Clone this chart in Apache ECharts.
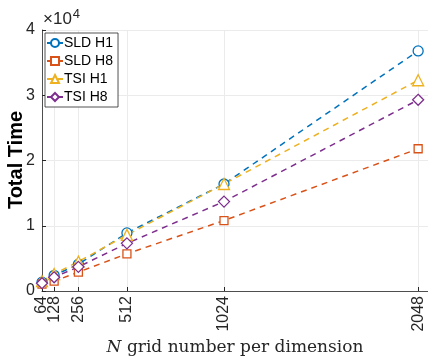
<!DOCTYPE html>
<html><head><meta charset="utf-8">
<script src="https://cdn.jsdelivr.net/npm/echarts@6/dist/echarts.min.js"></script>
<style>html,body{margin:0;padding:0;background:#fff}#c{width:428px;height:359px}</style>
</head><body><div id="c"></div>
<script>
const categories = [64, 128, 256, 512, 1024, 2048];
const sldH1 = [1350, 2400, 4100, 8900, 16400, 36800];
const sldH8 = [1050, 1500, 2900, 5700, 10800, 21800];
const tsiH1 = [1500, 2600, 4500, 8600, 16400, 32300];
const tsiH8 = [1200, 2100, 3700, 7300, 13700, 29300];
const yTicks = [0, 10000, 20000, 30000, 40000];
const seriesNames = ['SLD H1', 'SLD H8', 'TSI H1', 'TSI H8'];

const colors = ['#0072BD', '#D95319', '#EDB120', '#7E2F8E'];
const symbols = ['circle', 'rect', 'triangle', 'diamond'];
const sizes = [10, 8, 11, 11];
const allData = [sldH1, sldH8, tsiH1, tsiH8];

// labels split between two overlaid axes so the overlapping 64/128 both show
const labelsA = categories.filter((v, i) => i !== 1);
const labelsB = [categories[1]];

const chart = echarts.init(document.getElementById('c'), null, {renderer: 'canvas'});
const series = allData.map((d, i) => ({
  name: seriesNames[i],
  type: 'line',
  xAxisIndex: 0,
  data: categories.map((x, j) => [x, d[j]]),
  symbol: symbols[i],
  symbolSize: sizes[i],
  showAllSymbol: true,
  itemStyle: {color: '#fff', borderColor: colors[i], borderWidth: 1.3},
  lineStyle: {color: colors[i], width: 1.5, type: [6, 5]},
  z: 3
}));

const labelStyle = {rotate: 90, formatter: v => String(v), fontFamily: 'Liberation Sans', fontSize: 16, color: '#262626', margin: 5};

chart.setOption({
  animation: false,
  backgroundColor: '#fff',
  grid: {left: 42, right: 0, top: 30, bottom: 68, outerBoundsMode: 'none', containLabel: false},
  legend: {
    orient: 'vertical', left: 45, top: 33,
    data: seriesNames,
    itemWidth: 16, itemHeight: 10, itemGap: 4,
    padding: [3, 5, 3, 1],
    backgroundColor: '#fff', borderColor: '#262626', borderWidth: 0.8,
    textStyle: {fontFamily: 'Liberation Sans', fontSize: 14, color: '#000', padding: [0,0,0,-4]}
  },
  xAxis: [{
    type: 'value', min: 64, max: 2100, position: 'bottom',
    axisLine: {show: true, onZero: false, lineStyle: {color: '#262626', width: 0.8}},
    axisTick: {show: true, inside: true, length: 4, customValues: categories, lineStyle: {color: '#262626'}},
    axisLabel: Object.assign({customValues: labelsA}, labelStyle),
    splitLine: {show: true, lineStyle: {color: '#ebebeb', width: 1}},
    name: '{i|N} grid number per dimension',
    nameLocation: 'middle', nameGap: 45,
    nameTextStyle: {fontFamily: 'DejaVu Serif', fontSize: 17, color: '#262626',
      rich: {i: {fontFamily: 'DejaVu Serif', fontStyle: 'italic', fontSize: 17, color: '#262626'}}}
  }, {
    type: 'value', min: 64, max: 2100, position: 'bottom', offset: 0,
    axisLine: {show: false, onZero: false},
    axisTick: {show: false},
    axisLabel: Object.assign({customValues: labelsB}, labelStyle),
    splitLine: {show: false}
  }],
  yAxis: {
    type: 'value', min: 0, max: 40000, interval: 10000,
    axisLine: {show: true, lineStyle: {color: '#262626', width: 0.8}},
    axisTick: {show: true, inside: true, length: 4, lineStyle: {color: '#262626'}},
    axisLabel: {formatter: v => yTicks.indexOf(v) >= 0 ? String(v / 10000) : '', fontFamily: 'Liberation Sans', fontSize: 16, color: '#262626', margin: 7},
    splitLine: {show: true, lineStyle: {color: '#ebebeb', width: 1}}
  },
  graphic: [{
    type: 'text', left: 43, top: 8,
    style: {text: '×10{s|4}', fontFamily: 'Liberation Sans', fontSize: 17, fill: '#262626',
      rich: {s: {fontSize: 13, verticalAlign: 'top', fill: '#262626', padding: [0,0,10,1]}}}
  }, {
    type: 'text', x: 16, y: 160, rotation: Math.PI / 2,
    style: {text: 'Total Time', fontFamily: 'Liberation Sans', fontWeight: 'bold', fontSize: 20, fill: '#000',
      align: 'center', verticalAlign: 'middle'}
  }],
  series: series
});
</script></body></html>
